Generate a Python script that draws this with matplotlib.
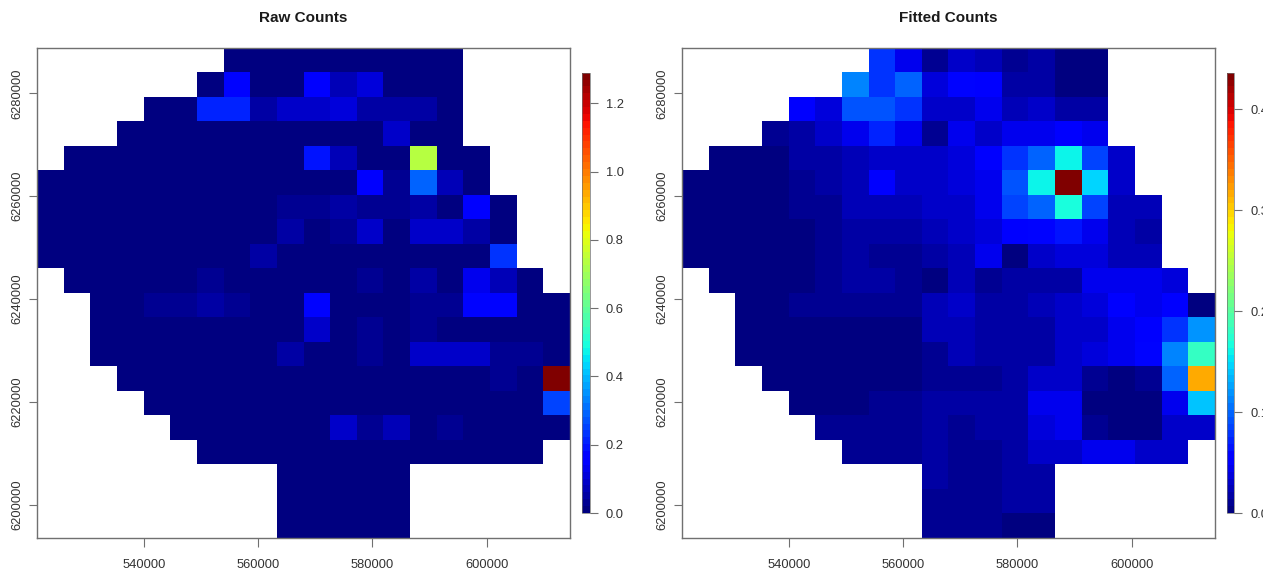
""" Raw and fitted counts on a 20 x 20 spatial grid, side by side """

import numpy as np
import matplotlib.pyplot as plt
from matplotlib.transforms import Bbox

_ = np.nan

#############
# Load Data #
#############

x_ticks = [540000, 560000, 580000, 600000]
y_ticks = [6200000, 6220000, 6240000, 6260000, 6280000]
raw_bar_ticks = [0.0, 0.2, 0.4, 0.6, 0.8, 1.0, 1.2]
fit_bar_ticks = [0.0, 0.1, 0.2, 0.3, 0.4]

raw_max = 1.29
fit_max = 0.436

# rows run from the top of the map down
raw_counts = [
    [_, _, _, _, _, _, _, 0, 0, 0, 0, 0, 0, 0, 0, 0, _, _, _, _],
    [_, _, _, _, _, _, 0, .18, 0, 0, .16, .07, .12, 0, 0, 0, _, _, _, _],
    [_, _, _, _, 0, 0, .22, .22, .05, .1, .09, .11, .06, .05, .05, 0, _, _, _, _],
    [_, _, _, 0, 0, 0, 0, 0, 0, 0, 0, 0, 0, .09, 0, 0, _, _, _, _],
    [_, 0, 0, 0, 0, 0, 0, 0, 0, 0, .2, .08, 0, 0, .73, 0, 0, _, _, _],
    [0, 0, 0, 0, 0, 0, 0, 0, 0, .02, .01, .01, .16, .03, .29, .07, 0, _, _, _],
    [0, 0, 0, 0, 0, 0, .01, .01, .01, .03, .03, .06, .04, .03, .06, 0, .16, 0, _, _],
    [0, 0, 0, 0, 0, 0, 0, 0, 0, .05, .01, .03, .1, .02, .09, .09, .06, 0, _, _],
    [0, 0, 0, 0, 0, 0, 0, 0, .05, 0, 0, 0, 0, 0, 0, .01, 0, .23, _, _],
    [_, 0, 0, 0, 0, 0, .04, 0, 0, 0, 0, 0, .04, 0, .06, 0, .13, .07, 0, _],
    [_, _, 0, 0, .04, .04, .06, .03, 0, 0, .17, 0, 0, 0, .03, .03, .17, .17, 0, 0],
    [_, _, 0, 0, 0, 0, 0, 0, 0, 0, .09, 0, .03, 0, .03, 0, 0, .02, 0, 0],
    [_, _, 0, 0, 0, 0, 0, 0, .015, .05, 0, 0, .03, 0, .1, .1, .1, .03, .04, 0],
    [_, _, _, 0, 0, 0, 0, 0, 0, 0, 0, 0, 0, 0, 0, 0, 0, .04, 0, 1.29],
    [_, _, _, _, 0, 0, 0, 0, 0, 0, 0, 0, 0, 0, 0, 0, 0, 0, 0, .25],
    [_, _, _, _, _, 0, 0, 0, 0, 0, 0, .09, .04, .08, 0, .04, 0, 0, 0, 0],
    [_, _, _, _, _, _, 0, 0, 0, 0, 0, 0, 0, 0, 0, 0, 0, 0, 0, _],
    [_, _, _, _, _, _, _, _, _, 0, 0, 0, 0, 0, _, _, _, _, _, _],
    [_, _, _, _, _, _, _, _, _, 0, 0, 0, 0, 0, _, _, _, _, _, _],
    [_, _, _, _, _, _, _, _, _, 0, 0, 0, 0, 0, _, _, _, _, _, _],
]

fitted_counts = [
    [_, _, _, _, _, _, _, .08, .044, .012, .034, .025, .012, .015, .002, 0, _, _, _, _],
    [_, _, _, _, _, _, .113, .08, .1, .035, .055, .048, .02, .02, .005, .003, _, _, _, _],
    [_, _, _, _, .05, .04, .095, .095, .075, .033, .03, .044, .024, .03, .015, .015, _, _, _, _],
    [_, _, _, .012, .02, .03, .044, .07, .044, .013, .044, .034, .044, .044, .05, .044, _, _, _, _],
    [_, 0, 0, .005, .015, .018, .025, .03, .03, .034, .037, .05, .08, .098, .163, .085, .034, _, _, _],
    [0, 0, 0, .003, .012, .015, .024, .05, .03, .034, .038, .045, .092, .163, .436, .148, .03, _, _, _],
    [0, 0, 0, .002, .008, .012, .022, .024, .026, .03, .034, .044, .083, .097, .17, .083, .023, .022, _, _],
    [0, 0, 0, 0, .005, .01, .018, .02, .017, .025, .032, .038, .05, .056, .062, .044, .023, .02, _, _],
    [0, 0, 0, 0, .005, .01, .016, .012, .012, .014, .024, .046, .005, .03, .035, .035, .024, .024, _, _],
    [_, 0, 0, .002, .006, .012, .014, .014, .01, .006, .022, .012, .014, .018, .02, .047, .044, .042, .04, _],
    [_, _, .005, .006, .008, .009, .01, .01, .012, .022, .028, .02, .02, .025, .028, .035, .05, .046, .05, .001],
    [_, _, .004, .002, .003, .003, .004, .004, .006, .025, .024, .018, .02, .02, .03, .034, .047, .05, .08, .12],
    [_, _, .003, .003, .003, .003, .004, .005, .006, .012, .022, .016, .018, .02, .03, .04, .045, .055, .115, .18],
    [_, _, _, .004, .004, .004, .005, .005, .006, .012, .012, .012, .015, .03, .03, .013, .006, .012, .1, .315],
    [_, _, _, _, .006, .006, .006, .007, .008, .014, .015, .014, .016, .044, .044, .004, .002, .003, .044, .14],
    [_, _, _, _, _, .008, .01, .01, .01, .014, .008, .014, .018, .04, .042, .008, .002, .004, .03, .03],
    [_, _, _, _, _, _, .012, .012, .012, .014, .012, .012, .02, .028, .03, .042, .042, .03, .03, _],
    [_, _, _, _, _, _, _, _, _, .014, .012, .008, .02, .015, _, _, _, _, _, _],
    [_, _, _, _, _, _, _, _, _, .012, .01, .012, .014, .014, _, _, _, _, _, _],
    [_, _, _, _, _, _, _, _, _, .012, .01, .008, .006, .004, _, _, _, _, _, _],
]

##################
# Visualize Data #
##################

plt.rcParams['font.family'] = ['Liberation Sans', 'DejaVu Sans']
W, H = 1279, 575
TEXT = '#333333'
EDGE = '#707070'

x_edges = np.linspace(521260, 614590, 21)
y_edges = np.linspace(6288810, 6193525, 21)
cmap = plt.get_cmap('jet', 64)


def pixel_axes(fig, left, top, right, bottom):
    return fig.add_axes([left / W, 1 - bottom / H, (right - left) / W, (bottom - top) / H])


def draw_panel(fig, counts, vmax, title, bar_ticks, left, bar_left):
    ax = pixel_axes(fig, left, 48, left + 533, 538)
    mesh = ax.pcolormesh(x_edges, y_edges, np.array(counts, dtype=float), cmap=cmap,
                         vmin=0, vmax=vmax, antialiased=False, linewidth=0)
    ax.set_xlim(x_edges[0], x_edges[-1])
    ax.set_ylim(y_edges[-1], y_edges[0])
    ax.set_xticks(x_ticks, [str(t) for t in x_ticks])
    ax.set_yticks(y_ticks, [str(t) for t in y_ticks])
    ax.tick_params(axis='x', length=6.2, width=0.8, color=EDGE, labelcolor=TEXT,
                   labelsize=9.3, pad=9)
    ax.tick_params(axis='y', length=5.8, width=0.8, color=EDGE, labelcolor=TEXT,
                   labelsize=9.3, pad=3.7)
    for lab in ax.get_yticklabels():
        lab.set_rotation(90)
        lab.set_verticalalignment('center')
    for spine in ax.spines.values():
        spine.set_color(EDGE)
        spine.set_linewidth(1.0)
    fig.text((left + 266) / W, 1 - 18.5 / H, title, ha='center', va='center',
             fontsize=11, fontweight='bold', color='#1a1a1a')

    cax = pixel_axes(fig, bar_left, 72.7, bar_left + 7.8, 513)
    bar = fig.colorbar(mesh, cax=cax, ticks=bar_ticks)
    bar.ax.set_yticklabels(['%.1f' % t for t in bar_ticks])
    bar.ax.tick_params(length=5.8, width=0.8, color=EDGE, labelcolor=TEXT,
                       labelsize=9.3, pad=6)
    bar.outline.set_edgecolor(EDGE)
    bar.outline.set_linewidth(0.5)
    return bar


fig = plt.figure(figsize=(W / 100, H / 100), dpi=100)
draw_panel(fig, raw_counts, raw_max, 'Raw Counts', raw_bar_ticks, 37, 581.7)
fit_bar = draw_panel(fig, fitted_counts, fit_max, 'Fitted Counts', fit_bar_ticks, 682, 1226.5)

# the right colorbar labels are cut off at the edge of the original picture
cut = Bbox.from_extents(0, 0, 1263, H)
for lab in fit_bar.ax.get_yticklabels():
    lab.set_clip_box(cut)
    lab.set_clip_on(True)

fig.savefig('out.png', dpi=100)
